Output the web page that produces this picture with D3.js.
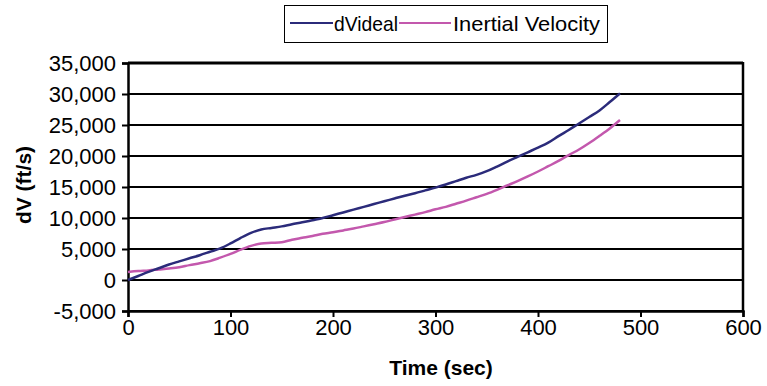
<!DOCTYPE html>
<html><head><meta charset="utf-8">
<script src="https://cdn.jsdelivr.net/npm/d3@7"></script>
<style>
body{margin:0;background:#fff;}
svg{display:block;}
text{font-family:"Liberation Sans Narrow","Arial Narrow","Liberation Sans",Arial,sans-serif;}
</style></head><body>
<svg id="c" width="767" height="386"></svg>
<script>
const seriesNames = ["dVideal", "Inertial Velocity"];
const seriesColors = ["#2b2b7a", "#c358ad"];
const time = [0,10,20,30,40,50,60,70,80,90,100,110,120,130,140,150,160,170,180,190,200,210,220,230,240,250,260,270,280,290,300,310,320,330,340,350,360,370,380,390,400,410,420,430,440,450,460,470,480];
const dVideal = [0,650,1300,1900,2500,3000,3500,4000,4550,5100,5900,6800,7600,8150,8400,8650,9000,9300,9650,10000,10450,10900,11350,11800,12250,12700,13150,13600,14000,14450,14900,15400,15950,16500,16950,17550,18300,19100,19850,20600,21350,22150,23200,24200,25250,26300,27350,28700,30100];
const inertialVelocity = [1300,1450,1550,1700,1850,2050,2400,2700,3050,3600,4200,4900,5500,5900,6000,6100,6500,6800,7100,7450,7700,8000,8300,8650,9000,9350,9750,10150,10550,10950,11400,11800,12300,12800,13350,13900,14550,15250,15950,16700,17500,18350,19200,20150,21050,22100,23250,24450,25800];
const xTicks = [0,100,200,300,400,500,600];
const yTicks = [-5000,0,5000,10000,15000,20000,25000,30000,35000];
const xTitle = "Time (sec)";
const yTitle = "dV (ft/s)";

const svg = d3.select("#c");
const L = 128, R = 743, T = 63, B = 311;
const x = d3.scaleLinear().domain([0,600]).range([L,R]);
const y = d3.scaleLinear().domain([-5000,35000]).range([B,T]);
const fmt = d => d3.format(",")(d).replace("\u2212","-");

// gridlines
svg.append("g").selectAll("line").data(yTicks).join("line")
  .attr("x1",L).attr("x2",R).attr("y1",d=>y(d)).attr("y2",d=>y(d))
  .attr("stroke","#000").attr("stroke-width",d=>d===35000?3:2);
// right border
svg.append("line").attr("x1",R).attr("x2",R).attr("y1",T-1).attr("y2",B+1)
  .attr("stroke","#000").attr("stroke-width",2.5);

// y axis
const ya = svg.append("g").attr("transform",`translate(${L},0)`)
  .call(d3.axisLeft(y).tickValues(yTicks).tickFormat(fmt).tickSize(6).tickPadding(6));
ya.select(".domain").attr("stroke","#000").attr("stroke-width",2.5);
ya.selectAll(".tick line").attr("stroke","#000").attr("stroke-width",2);
ya.selectAll("text").attr("font-size",22).attr("fill","#000").attr("dy","0.36em").attr("font-family",null);

// x axis
const xa = svg.append("g").attr("transform",`translate(0,${B})`)
  .call(d3.axisBottom(x).tickValues(xTicks).tickFormat(d3.format("d")).tickSize(6).tickPadding(2));
xa.select(".domain").attr("stroke","#000").attr("stroke-width",2.5);
xa.selectAll(".tick line").attr("stroke","#000").attr("stroke-width",2);
xa.selectAll("text").attr("font-size",22).attr("fill","#000").attr("font-family",null);

// lines
const rows = time.map((t,i)=>({t, a:dVideal[i], b:inertialVelocity[i]}));
const line = key => d3.line().x(d=>x(d.t)).y(d=>y(d[key])).curve(d3.curveMonotoneX);
svg.append("path").datum(rows).attr("d",line("b")).attr("fill","none")
  .attr("stroke",seriesColors[1]).attr("stroke-width",2.5);
svg.append("path").datum(rows).attr("d",line("a")).attr("fill","none")
  .attr("stroke",seriesColors[0]).attr("stroke-width",2.5);

// titles
svg.append("text").attr("x",441).attr("y",375).attr("text-anchor","middle")
  .attr("font-size",21).attr("font-weight","bold").text(xTitle);
svg.append("text").attr("transform",`translate(31,185) rotate(-90)`)
  .attr("text-anchor","middle").attr("font-size",21).attr("font-weight","bold").text(yTitle);

// legend
const lg = svg.append("g");
lg.append("rect").attr("x",284.5).attr("y",5.5).attr("width",323).attr("height",37)
  .attr("fill","#fff").attr("stroke","#000").attr("stroke-width",1);
const items = [{x1:290,x2:333,tx:334,w:64},{x1:399,x2:451,tx:453,w:147}];
items.forEach((it,i)=>{
  lg.append("line").attr("x1",it.x1).attr("x2",it.x2).attr("y1",23).attr("y2",23)
    .attr("stroke",seriesColors[i]).attr("stroke-width",2);
  lg.append("text").attr("x",it.tx).attr("y",31).attr("font-size",21)
    .attr("textLength",it.w).attr("lengthAdjust","spacingAndGlyphs").text(seriesNames[i]);
});
</script>
</body></html>
